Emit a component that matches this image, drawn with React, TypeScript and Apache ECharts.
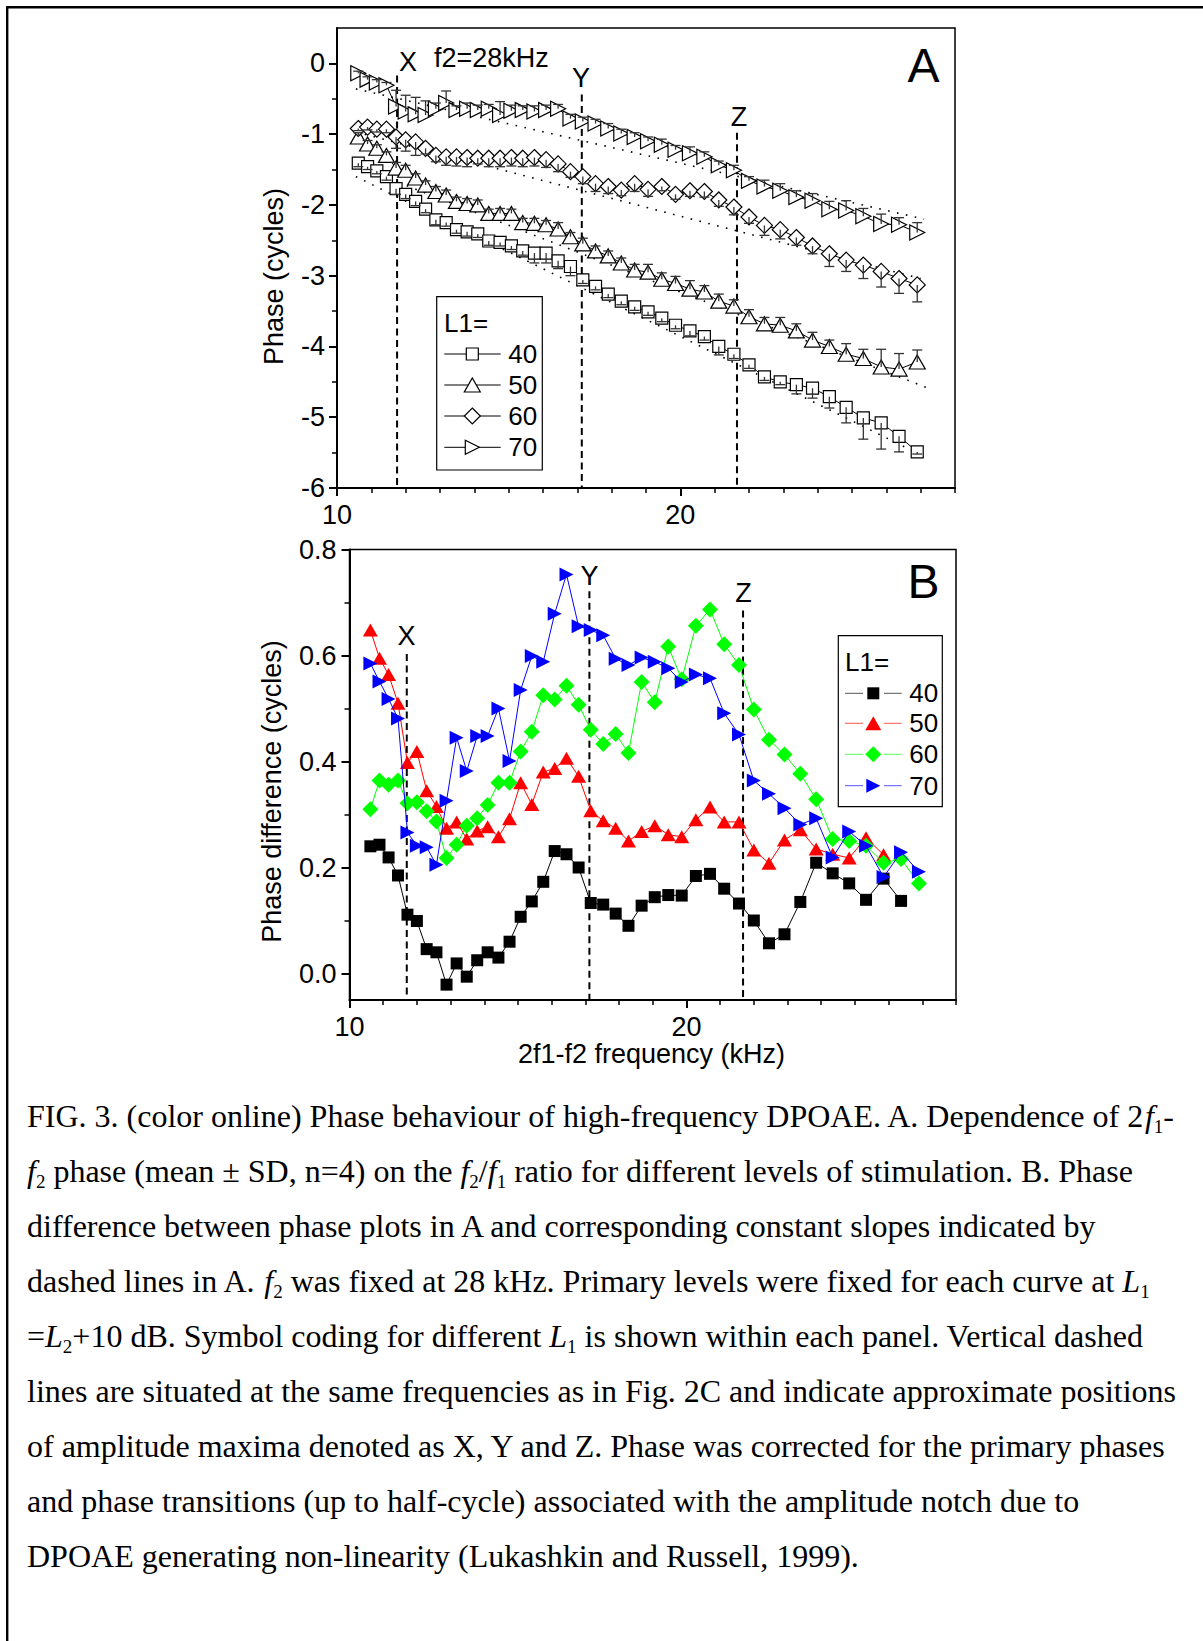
import React, { useEffect, useRef } from "react";
import * as echarts from "echarts";

const SANS = "'Liberation Sans', Arial, Helvetica, sans-serif";
const SERIF = "'Liberation Serif', 'Times New Roman', Times, serif";

// 2f1-f2 frequency (kHz) of each stimulus step
const freqKHz = [10.62, 10.89, 11.16, 11.44, 11.72, 12.0, 12.29, 12.58, 12.88, 13.18, 13.48, 13.79, 14.1, 14.42, 14.75, 15.08, 15.41, 15.75, 16.09, 16.44, 16.8, 17.16, 17.53, 17.9, 18.28, 18.67, 19.06, 19.46, 19.86, 20.28, 20.7, 21.12, 21.56, 22.0, 22.45, 22.91, 23.38, 23.85, 24.34, 24.83, 25.33, 25.85, 26.37, 26.9];

// Panel A: phase (cycles), mean and SD
const phaseL40 = [-1.41, -1.46, -1.52, -1.6, -1.77, -1.85, -1.95, -2.06, -2.21, -2.25, -2.35, -2.38, -2.41, -2.51, -2.53, -2.58, -2.65, -2.68, -2.68, -2.79, -2.87, -3.06, -3.15, -3.26, -3.36, -3.44, -3.51, -3.6, -3.7, -3.78, -3.86, -4.0, -4.11, -4.26, -4.43, -4.5, -4.54, -4.59, -4.71, -4.86, -5.01, -5.08, -5.27, -5.49];
const phaseL50 = [-1.04, -1.14, -1.2, -1.3, -1.48, -1.51, -1.62, -1.72, -1.81, -1.86, -1.95, -1.98, -2.0, -2.12, -2.12, -2.12, -2.25, -2.26, -2.28, -2.34, -2.45, -2.55, -2.65, -2.72, -2.82, -2.92, -2.95, -3.05, -3.11, -3.19, -3.23, -3.36, -3.43, -3.58, -3.68, -3.7, -3.78, -3.91, -4.0, -4.11, -4.17, -4.29, -4.32, -4.22];
const phaseL60 = [-0.92, -0.9, -0.93, -0.93, -1.04, -1.08, -1.11, -1.2, -1.3, -1.32, -1.32, -1.33, -1.34, -1.34, -1.34, -1.33, -1.34, -1.33, -1.36, -1.42, -1.53, -1.6, -1.7, -1.74, -1.79, -1.7, -1.78, -1.74, -1.85, -1.8, -1.81, -1.93, -2.03, -2.17, -2.29, -2.35, -2.46, -2.58, -2.69, -2.78, -2.85, -2.94, -3.04, -3.13];
const phaseL70 = [-0.14, -0.23, -0.27, -0.31, -0.61, -0.68, -0.72, -0.73, -0.64, -0.56, -0.66, -0.64, -0.66, -0.64, -0.73, -0.67, -0.66, -0.68, -0.66, -0.64, -0.78, -0.82, -0.85, -0.92, -0.99, -1.04, -1.1, -1.15, -1.22, -1.27, -1.32, -1.44, -1.51, -1.66, -1.74, -1.8, -1.89, -1.94, -2.06, -2.08, -2.16, -2.27, -2.28, -2.39];
const sdL40 = [0.05, 0.04, 0.04, 0.05, 0.08, 0.06, 0.06, 0.05, 0.07, 0.05, 0.05, 0.06, 0.05, 0.06, 0.05, 0.05, 0.06, 0.14, 0.14, 0.11, 0.13, 0.05, 0.05, 0.05, 0.05, 0.05, 0.05, 0.05, 0.05, 0.07, 0.05, 0.12, 0.06, 0.05, 0.05, 0.04, 0.13, 0.14, 0.16, 0.22, 0.3, 0.37, 0.22, 0.03];
const sdL50 = [0.06, 0.05, 0.05, 0.05, 0.08, 0.07, 0.06, 0.06, 0.07, 0.07, 0.06, 0.07, 0.07, 0.06, 0.07, 0.06, 0.06, 0.07, 0.06, 0.09, 0.06, 0.08, 0.07, 0.07, 0.07, 0.08, 0.11, 0.09, 0.1, 0.12, 0.09, 0.1, 0.09, 0.1, 0.09, 0.11, 0.1, 0.11, 0.09, 0.15, 0.13, 0.25, 0.22, 0.17];
const sdL60 = [0.03, 0.04, 0.04, 0.05, 0.16, 0.16, 0.19, 0.08, 0.09, 0.12, 0.13, 0.13, 0.08, 0.12, 0.12, 0.12, 0.12, 0.12, 0.11, 0.11, 0.08, 0.1, 0.11, 0.1, 0.08, 0.11, 0.1, 0.06, 0.07, 0.08, 0.08, 0.09, 0.11, 0.09, 0.14, 0.13, 0.11, 0.11, 0.18, 0.16, 0.19, 0.22, 0.21, 0.24];
const sdL70 = [0.03, 0.04, 0.04, 0.04, 0.23, 0.23, 0.24, 0.2, 0.08, 0.17, 0.06, 0.08, 0.07, 0.06, 0.19, 0.08, 0.06, 0.08, 0.07, 0.06, 0.06, 0.06, 0.06, 0.07, 0.06, 0.06, 0.06, 0.08, 0.06, 0.09, 0.07, 0.06, 0.07, 0.06, 0.09, 0.1, 0.09, 0.1, 0.11, 0.14, 0.11, 0.14, 0.1, 0.14];

// Panel A: constant-slope reference lines (start and end points)
const slopeL40 = [[10.55, -1.6], [27.0, -5.53]];
const slopeL50 = [[10.55, -1.45], [27.33, -4.61]];
const slopeL60 = [[10.55, -0.97], [27.0, -3.04]];
const slopeL70 = [[10.55, -0.36], [27.1, -2.2]];

// Panel B: phase difference (cycles)
const diffL40 = [0.24, 0.243, 0.219, 0.185, 0.111, 0.099, 0.046, 0.04, -0.021, 0.019, -0.006, 0.025, 0.04, 0.03, 0.06, 0.107, 0.136, 0.173, 0.231, 0.225, 0.2, 0.133, 0.13, 0.113, 0.09, 0.128, 0.144, 0.148, 0.147, 0.184, 0.188, 0.16, 0.132, 0.1, 0.057, 0.074, 0.135, 0.209, 0.189, 0.17, 0.139, 0.179, 0.137];
const diffL50 = [0.648, 0.595, 0.564, 0.51, 0.398, 0.419, 0.345, 0.315, 0.274, 0.286, 0.254, 0.269, 0.277, 0.258, 0.292, 0.36, 0.319, 0.38, 0.387, 0.406, 0.372, 0.307, 0.288, 0.274, 0.25, 0.268, 0.279, 0.262, 0.258, 0.29, 0.314, 0.286, 0.286, 0.233, 0.208, 0.252, 0.271, 0.235, 0.225, 0.218, 0.256, 0.224];
const diffL60 = [0.31, 0.364, 0.356, 0.364, 0.321, 0.323, 0.306, 0.287, 0.218, 0.243, 0.279, 0.293, 0.318, 0.36, 0.36, 0.419, 0.456, 0.525, 0.517, 0.543, 0.507, 0.46, 0.433, 0.452, 0.416, 0.55, 0.512, 0.617, 0.555, 0.656, 0.687, 0.621, 0.582, 0.498, 0.441, 0.413, 0.377, 0.329, 0.254, 0.25, 0.241, 0.209, 0.216, 0.17];
const diffL70 = [0.585, 0.551, 0.518, 0.481, 0.266, 0.241, 0.238, 0.205, 0.326, 0.445, 0.382, 0.448, 0.448, 0.5, 0.401, 0.535, 0.599, 0.588, 0.679, 0.753, 0.655, 0.648, 0.638, 0.594, 0.582, 0.596, 0.588, 0.576, 0.55, 0.564, 0.557, 0.491, 0.451, 0.364, 0.339, 0.312, 0.281, 0.293, 0.219, 0.268, 0.241, 0.182, 0.229, 0.192];

// Amplitude maxima X, Y, Z (kHz) and where their dashed lines start
const maxNames = ["X", "Y", "Z"];
const maxFreqA = [11.75, 17.13, 21.65];
const maxTopA = [-0.17, -0.44, -0.98];
const maxFreqB = [11.7, 17.12, 21.68];
const maxTopB = [0.603, 0.721, 0.685];

const levelNames = ["40", "50", "60", "70"];

// ticks
const xMajorTicks = [10, 20];
const xMinorTicks = [11, 12, 13, 14, 15, 16, 17, 18, 19, 21, 22, 23, 24, 25, 26, 27, 28];
const yMajorA = [-6, -5, -4, -3, -2, -1, 0];
const yMinorA = [-5.5, -4.5, -3.5, -2.5, -1.5, -0.5];
const yMajorB = [0, 0.2, 0.4, 0.6, 0.8];
const yMinorB = [0.1, 0.3, 0.5, 0.7];

const captionLines = [
  "{n|FIG. 3. (color online) Phase behaviour of high-frequency DPOAE. A. Dependence of 2}{i|f}{s|1}{n|-}",
  "{i|f}{s|2}{n|\u00a0phase (mean \u00b1 SD, n=4) on the\u00a0}{i|f}{s|2}{n|/}{i|f}{s|1}{n|\u00a0ratio for different levels of stimulation. B. Phase}",
  "{n|difference between phase plots in A and corresponding constant slopes indicated by}",
  "{n|dashed lines in A.\u00a0}{i|f}{s|2}{n|\u00a0was fixed at 28 kHz. Primary levels were fixed for each curve at\u00a0}{i|L}{s|1}",
  "{n|=}{i|L}{s|2}{n|+10 dB. Symbol coding for different\u00a0}{i|L}{s|1}{n|\u00a0is shown within each panel. Vertical dashed}",
  "{n|lines are situated at the same frequencies as in Fig. 2C and indicate approximate positions}",
  "{n|of amplitude maxima denoted as X, Y and Z. Phase was corrected for the primary phases}",
  "{n|and phase transitions (up to half-cycle) associated with the amplitude notch due to}",
  "{n|DPOAE generating non-linearity (Lukashkin and Russell, 1999).}",
];

function buildOption() {
  const pairs = (ys: number[]) => ys.map((y, i) => [freqKHz[i], y]);

  const xAxisPair = (gridIndex: number) => [
    {
      gridIndex, type: "value", min: 10, max: 28, position: "bottom",
      axisLine: { show: true, onZero: false, lineStyle: { color: "#000", width: 2 } },
      axisTick: { show: true, inside: false, length: 8, customValues: xMajorTicks, lineStyle: { color: "#000", width: 2 } },
      axisLabel: { show: true, customValues: xMajorTicks, margin: 13, color: "#000", fontSize: 27, fontFamily: SANS },
      splitLine: { show: false },
    },
    {
      gridIndex, type: "value", min: 10, max: 28, position: "bottom",
      axisLine: { show: false, onZero: false },
      axisTick: { show: true, inside: false, length: 5, customValues: xMinorTicks, lineStyle: { color: "#000", width: 1.5 } },
      axisLabel: { show: false },
      splitLine: { show: false },
    },
  ];

  const yAxisPair = (gridIndex: number, min: number, max: number, major: number[], minor: number[], fmt: (v: number) => string, margin: number) => [
    {
      gridIndex, type: "value", min, max, position: "left",
      axisLine: { show: true, onZero: false, lineStyle: { color: "#000", width: 2 } },
      axisTick: { show: true, inside: false, length: 8, customValues: major, lineStyle: { color: "#000", width: 2 } },
      axisLabel: { show: true, customValues: major, margin, color: "#000", fontSize: 27, fontFamily: SANS, formatter: fmt },
      splitLine: { show: false },
    },
    {
      gridIndex, type: "value", min, max, position: "left",
      axisLine: { show: false, onZero: false },
      axisTick: { show: true, inside: false, length: 5, customValues: minor, lineStyle: { color: "#000", width: 1.5 } },
      axisLabel: { show: false },
      splitLine: { show: false },
    },
  ];

  const symbolsA = [
    { symbol: "rect", size: 12, rotate: 0 },
    { symbol: "triangle", size: [16, 14], rotate: 0 },
    { symbol: "diamond", size: [16, 16], rotate: 0 },
    { symbol: "triangle", size: [15, 15], rotate: -90 },
  ];
  const phaseSets = [phaseL40, phaseL50, phaseL60, phaseL70];
  const sdSets = [sdL40, sdL50, sdL60, sdL70];
  const sdDir = [-1, 1, -1, 1];
  const slopeSets = [slopeL40, slopeL50, slopeL60, slopeL70];

  const series: any[] = [];

  // dashed vertical lines, panel A and B
  maxFreqA.forEach((f, k) => {
    series.push({
      type: "line", xAxisIndex: 0, yAxisIndex: 0, data: [[f, maxTopA[k]], [f, -6]],
      symbol: "none", silent: true, z: 1,
      lineStyle: { color: "#000", width: 2, type: [7, 4.5] },
    });
  });
  maxFreqB.forEach((f, k) => {
    series.push({
      type: "line", xAxisIndex: 2, yAxisIndex: 2, data: [[f, maxTopB[k]], [f, -0.05]],
      symbol: "none", silent: true, z: 1,
      lineStyle: { color: "#000", width: 2, type: [7, 4.5] },
    });
  });

  // slope reference lines
  slopeSets.forEach((s) => {
    series.push({
      type: "line", xAxisIndex: 0, yAxisIndex: 0, data: s, symbol: "none", silent: true, z: 2,
      lineStyle: { color: "#000", width: 1.6, type: [1.6, 7.5] },
    });
  });

  // phase curves, panel A
  phaseSets.forEach((vals, k) => {
    series.push({
      type: "line", name: "A" + levelNames[k], xAxisIndex: 0, yAxisIndex: 0, data: pairs(vals),
      symbol: symbolsA[k].symbol, symbolSize: symbolsA[k].size, symbolRotate: symbolsA[k].rotate,
      showAllSymbol: true, z: 3,
      itemStyle: { color: "#fff", borderColor: "#000", borderWidth: 1.2 },
      lineStyle: { color: "#000", width: 1 },
    });
  });

  // error bars, panel A
  phaseSets.forEach((vals, k) => {
    const sds = sdSets[k];
    const dir = sdDir[k];
    series.push({
      type: "custom", xAxisIndex: 0, yAxisIndex: 0, silent: true, z: 4,
      data: vals.map((v, i) => [freqKHz[i], v, sds[i]]),
      encode: { x: 0, y: 1 },
      renderItem: (params: any, api: any) => {
        const x = api.value(0);
        const y = api.value(1);
        const e = api.value(2);
        const p0 = api.coord([x, y]);
        const p1 = api.coord([x, y + dir * e]);
        const st = { stroke: "#333", lineWidth: 1.3 };
        return {
          type: "group",
          children: [
            { type: "line", shape: { x1: p0[0], y1: p0[1], x2: p1[0], y2: p1[1] }, style: st },
            { type: "line", shape: { x1: p1[0] - 5, y1: p1[1], x2: p1[0] + 5, y2: p1[1] }, style: st },
          ],
        };
      },
    });
  });

  // panel B
  const colorsB = ["#000000", "#ff0000", "#00ff00", "#0000ff"];
  const symbolsB = [
    { symbol: "rect", size: 12, rotate: 0 },
    { symbol: "triangle", size: [15, 13], rotate: 0 },
    { symbol: "diamond", size: [16, 16], rotate: 0 },
    { symbol: "triangle", size: [14, 14], rotate: -90 },
  ];
  const diffSets = [diffL40, diffL50, diffL60, diffL70];
  diffSets.forEach((vals, k) => {
    series.push({
      type: "line", name: "B" + levelNames[k], xAxisIndex: 2, yAxisIndex: 2, data: pairs(vals),
      symbol: symbolsB[k].symbol, symbolSize: symbolsB[k].size, symbolRotate: symbolsB[k].rotate,
      showAllSymbol: true, z: 3 + k * 0.1,
      itemStyle: { color: colorsB[k], borderWidth: 0 },
      lineStyle: { color: colorsB[k], width: 1 },
    });
  });

  // ---------- graphic ----------
  const g: any[] = [];
  const txt = (x: number, y: number, text: string, size: number, align = "center", vAlign = "middle", extra: any = {}) => ({
    type: "text", x, y, z: 100, silent: true, ...extra,
    style: {
      text, fill: "#000", fontSize: size, fontFamily: SANS,
      align, verticalAlign: vAlign, textAlign: align, textVerticalAlign: vAlign,
    },
  });

  // outer frame of the figure
  g.push({ type: "line", z: 100, shape: { x1: 6, y1: 7.2, x2: 1203, y2: 7.2 }, style: { stroke: "#000", lineWidth: 2.4 } });
  g.push({ type: "line", z: 100, shape: { x1: 7.2, y1: 6, x2: 7.2, y2: 1641 }, style: { stroke: "#000", lineWidth: 2.4 } });

  // axis titles
  g.push(txt(274, 276.5, "Phase (cycles)", 27, "center", "middle", { rotation: Math.PI / 2 }));
  g.push(txt(272, 791.5, "Phase difference (cycles)", 27, "center", "middle", { rotation: Math.PI / 2 }));
  g.push(txt(651.5, 1054, "2f1-f2 frequency (kHz)", 27));

  // panel labels
  g.push(txt(923.5, 65, "A", 48));
  g.push(txt(923.5, 581, "B", 48));
  g.push(txt(434, 57.6, "f2=28kHz", 27, "left"));
  const labA = [[408, 61.8], [581, 77.5], [739, 117.3]];
  const labB = [[406.5, 635.5], [589.5, 576], [743.5, 592.6]];
  maxNames.forEach((n, k) => {
    g.push(txt(labA[k][0], labA[k][1], n, 27));
    g.push(txt(labB[k][0], labB[k][1], n, 27));
  });

  // marker shapes for the legends
  const marker = (kind: string, cx: number, cy: number, style: any) => {
    if (kind === "rect") return { type: "rect", z: 102, shape: { x: cx - 6, y: cy - 6, width: 12, height: 12 }, style };
    if (kind === "up") return { type: "polygon", z: 102, shape: { points: [[cx, cy - 7], [cx + 8, cy + 7], [cx - 8, cy + 7]] }, style };
    if (kind === "diamond") return { type: "polygon", z: 102, shape: { points: [[cx, cy - 8], [cx + 8, cy], [cx, cy + 8], [cx - 8, cy]] }, style };
    return { type: "polygon", z: 102, shape: { points: [[cx - 7, cy - 7], [cx + 7, cy], [cx - 7, cy + 7]] }, style };
  };
  const kinds = ["rect", "up", "diamond", "right"];

  // legend A
  g.push({ type: "rect", z: 99, shape: { x: 436.7, y: 296.7, width: 105.6, height: 173.3 }, style: { fill: "#fff", stroke: "#000", lineWidth: 1.2 } });
  g.push(txt(444, 322.7, "L1=", 26, "left"));
  const rowsA = [354, 385, 416, 447.3];
  levelNames.forEach((n, k) => {
    const y = rowsA[k];
    g.push({ type: "line", z: 101, shape: { x1: 444.3, y1: y, x2: 500.7, y2: y }, style: { stroke: "#000", lineWidth: 1 } });
    g.push(marker(kinds[k], 472.3, y, { fill: "#fff", stroke: "#000", lineWidth: 1.2 }));
    g.push(txt(508.3, y, n, 26, "left"));
  });

  // legend B
  g.push({ type: "rect", z: 99, shape: { x: 838.3, y: 635.7, width: 104, height: 171 }, style: { fill: "#fff", stroke: "#000", lineWidth: 1.2 } });
  g.push(txt(845, 661.7, "L1=", 26, "left"));
  const rowsB = [693.3, 723.3, 754.3, 785.7];
  const legLineB = ["#555555", "#ff5555", "#55ff55", "#5555ff"];
  levelNames.forEach((n, k) => {
    const y = rowsB[k];
    g.push({ type: "line", z: 101, shape: { x1: 845, y1: y, x2: 863, y2: y }, style: { stroke: legLineB[k], lineWidth: 1 } });
    g.push({ type: "line", z: 101, shape: { x1: 884, y1: y, x2: 901.7, y2: y }, style: { stroke: legLineB[k], lineWidth: 1 } });
    g.push(marker(kinds[k], 873.3, y, { fill: colorsB[k] }));
    g.push(txt(909.3, y, n, 26, "left"));
  });

  // caption
  const rich = {
    n: { fontFamily: SERIF, fontSize: 32, lineHeight: 40, fill: "#000", color: "#000" },
    i: { fontFamily: SERIF, fontSize: 32, lineHeight: 40, fontStyle: "italic", fill: "#000", color: "#000" },
    s: { fontFamily: SERIF, fontSize: 19, lineHeight: 24, verticalAlign: "bottom", fill: "#000", color: "#000" },
  };
  captionLines.forEach((line, k) => {
    g.push({
      type: "text", x: 27, y: 1095.5 + k * 55.1, z: 100, silent: true,
      style: {
        text: line, rich, fill: "#000", fontFamily: SERIF, fontSize: 32,
        align: "left", verticalAlign: "top", textAlign: "left", textVerticalAlign: "top",
      },
    });
  });

  return {
    animation: false,
    backgroundColor: "#fff",
    grid: [
      { left: 337, top: 28, width: 618, height: 460, show: true, borderColor: "#000", borderWidth: 1.5, backgroundColor: "transparent", containLabel: false },
      { left: 349.5, top: 549.5, width: 606.5, height: 450.5, show: true, borderColor: "#000", borderWidth: 1.5, backgroundColor: "transparent", containLabel: false },
    ],
    xAxis: [...xAxisPair(0), ...xAxisPair(1)],
    yAxis: [
      ...yAxisPair(0, -6, 0.5, yMajorA, yMinorA, (v: number) => String(v), 12),
      ...yAxisPair(1, -0.05, 0.8, yMajorB, yMinorB, (v: number) => v.toFixed(1), 13),
    ],
    series,
    graphic: g,
  };
}

export default function App() {
  const ref = useRef<HTMLDivElement>(null);
  useEffect(() => {
    if (!ref.current) return;
    const chart = echarts.init(ref.current, null, { renderer: "svg", width: 1203, height: 1641 });
    chart.setOption(buildOption() as any);
    return () => chart.dispose();
  }, []);
  return (
    <div
      ref={ref}
      style={{ position: "absolute", left: 0, top: 0, width: 1203, height: 1641, background: "#fff" }}
    />
  );
}
